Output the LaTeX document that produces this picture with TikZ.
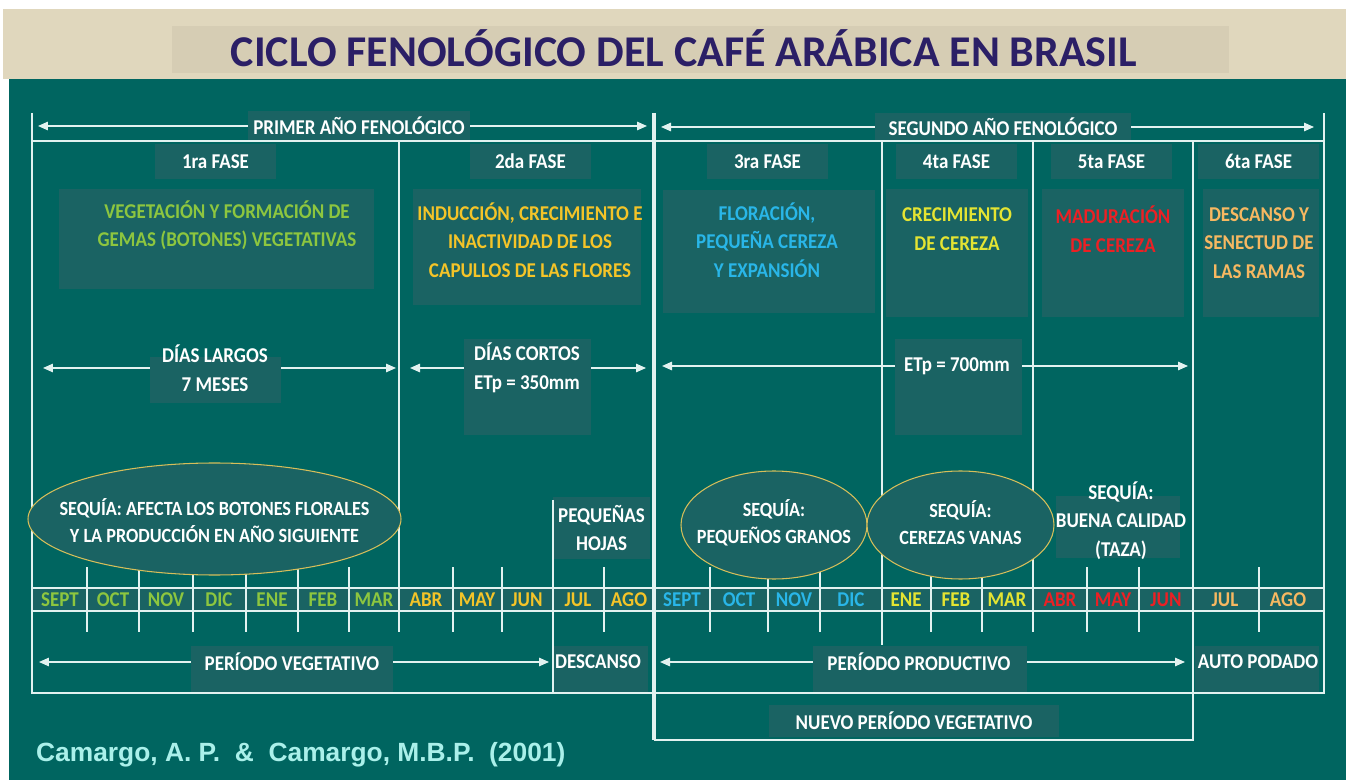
\documentclass[tikz,border=0pt]{standalone}
\usepackage{fontspec}
\setmainfont{Carlito}[FakeStretch=0.9]
\newfontfamily\titlefont{Carlito}
\newfontfamily\citefont{Liberation Sans}
\usetikzlibrary{arrows.meta,positioning,shapes.geometric}

\definecolor{tealbg}{RGB}{0,101,96}
\definecolor{boxc}{RGB}{26,99,99}
\definecolor{linec}{RGB}{226,242,240}
\definecolor{beige}{RGB}{224,215,189}
\definecolor{beigebox}{RGB}{214,205,180}
\definecolor{navy}{RGB}{43,31,102}
\definecolor{cgreen}{RGB}{141,198,63}
\definecolor{cgold}{RGB}{244,196,40}
\definecolor{ccyan}{RGB}{41,182,232}
\definecolor{clemon}{RGB}{228,228,50}
\definecolor{cred}{RGB}{236,32,36}
\definecolor{corange}{RGB}{247,184,97}
\definecolor{ellc}{RGB}{214,190,90}
\definecolor{citec}{RGB}{170,240,234}

\tikzstyle{arrow}    = [draw=linec, line width=0.8pt, ->, >={Triangle[length=0.2cm,width=0.17cm]}]
\tikzstyle{gridline} = [draw=linec, line width=0.8pt]
\tikzstyle{tickline} = [draw=linec, line width=0.6pt]
\tikzset{
	pane/.style 2 args={fill=boxc, inner sep=0pt, minimum width=#1*0.02cm, minimum height=#2*0.02cm},
	lbl/.style={text=white, font=\bfseries\fontsize{12}{16.2}\selectfont, align=center, inner sep=1pt},
	month/.style={font=\bfseries\fontsize{12}{14}\selectfont, inner sep=0pt},
	drought/.style 2 args={ellipse, draw=ellc, line width=0.6pt, fill=boxc, inner sep=0pt,
		minimum width=#1*0.02cm, minimum height=#2*0.02cm},
	droughttxt/.style={text=white, font=\bfseries\fontsize{11.5}{15.3}\selectfont, align=center, inner sep=1pt},
}

\begin{document}
\begin{tikzpicture}[x=0.02cm, y=-0.02cm]
	\useasboundingbox (0,0) rectangle (1346,780);
	% fondo y titulo
	\fill[white] (0,0) rectangle (1346,780);
	\fill[beige] (3,9) rectangle (1346,79);
	\fill[beigebox] (172,26) rectangle (1229,73);
	\fill[tealbg] (9,79) rectangle (1346,780);
	\node[text=navy, font=\titlefont\bfseries\fontsize{25}{28}\selectfont] (titulo) at (684,48) {CICLO FENOLÓGICO DEL CAFÉ ARÁBICA EN BRASIL};

	% anos y fases
	\node[pane={222}{30}, lbl] (yr1) at (359,126) {PRIMER AÑO FENOLÓGICO};
	\node[pane={256}{28}, lbl] (yr2) at (1003,127) {SEGUNDO AÑO FENOLÓGICO};
	\node[pane={121}{35}, lbl] (fase1) at (215.5,161.5) {1ra FASE};
	\node[pane={121}{35}, lbl] (fase2) at (530.5,161.5) {2da FASE};
	\node[pane={121}{35}, lbl] (fase3) at (767.5,161.5) {3ra FASE};
	\node[pane={121}{35}, lbl] (fase4) at (956.5,161.5) {4ta FASE};
	\node[pane={121}{35}, lbl] (fase5) at (1111.5,161.5) {5ta FASE};
	\node[pane={121}{35}, lbl] (fase6) at (1258.5,161.5) {6ta FASE};

	\node[pane={315}{100}] (desc1box) at (216.5,239) {};
	\node[lbl, text=cgreen] (desc1) at (227,225.5) {VEGETACIÓN Y FORMACIÓN DE\\GEMAS (BOTONES) VEGETATIVAS};
	\node[pane={228}{116}] (desc2box) at (527,247) {};
	\node[lbl, text=cgold] (desc2) at (530,240) {INDUCCIÓN, CRECIMIENTO E\\INACTIVIDAD DE LOS\\CAPULLOS DE LAS FLORES};
	\node[pane={212}{123}] (desc3box) at (769,251.5) {};
	\node[lbl, text=ccyan] (desc3) at (767,240) {FLORACIÓN,\\PEQUEÑA CEREZA\\Y EXPANSIÓN};
	\node[pane={142}{128}] (desc4box) at (957,253) {};
	\node[lbl, text=clemon] (desc4) at (957,229) {CRECIMIENTO\\DE CEREZA};
	\node[pane={142}{128}] (desc5box) at (1113,253) {};
	\node[lbl, text=cred] (desc5) at (1113,229) {MADURACIÓN\\DE CEREZA};
	\node[pane={116}{128}] (desc6box) at (1261,253) {};
	\node[lbl, text=corange] (desc6) at (1259,243) {DESCANSO Y\\SENECTUD DE\\LAS RAMAS};

	% dias y ETp
	\node[pane={131}{46}] (largosbox) at (215.5,380) {};
	\node[lbl] (largos) at (215,368) {DÍAS LARGOS\\7 MESES};
	\node[pane={127}{96}] (cortosbox) at (527.5,387) {};
	\node[lbl] (cortos) at (527,368) {DÍAS CORTOS\\ETp = 350mm};
	\node[pane={127}{96}] (etpbox) at (958.5,387) {};
	\node[lbl] (etp) at (957,366) {ETp = 700mm};

	\node[pane={97}{61}, lbl] (hojas) at (601.5,528) {PEQUEÑAS\\HOJAS};
	\node[pane={124}{62}] (tazabox) at (1118,527) {};
	\node[lbl] (taza) at (1121,520.5) {SEQUÍA:\\BUENA CALIDAD\\(TAZA)};

	% periodos
	\node[pane={202}{46}] (vegbox) at (292,669) {};
	\node[lbl] (veg) at (292,662) {PERÍODO VEGETATIVO};
	\node[pane={95}{46}] (descbox) at (600.5,669) {};
	\node[lbl] (desc) at (598,662) {DESCANSO};
	\node[pane={214}{46}] (prodbox) at (920,669) {};
	\node[lbl] (prod) at (919,662) {PERÍODO PRODUCTIVO};
	\node[pane={124}{46}] (autobox) at (1257,669) {};
	\node[lbl] (auto) at (1258,662) {AUTO PODADO};
	\node[pane={290}{32}, lbl] (nuevo) at (914,721) {NUEVO PERÍODO VEGETATIVO};

	% fila de meses
	\fill[boxc] (32,588) rectangle (1324,611);

	% lineas
	\draw[gridline] (32,113) -- (32,693) -- (1324,693) -- (1324,113);
	\draw[gridline] (32,141) -- (1324,141);
	\draw[gridline] (32,588) -- (1324,588);
	\draw[gridline] (32,611) -- (1324,611);
	\draw[gridline] (399,141) -- (399,632);
	\draw[gridline] (882,141) -- (882,645);
	\draw[gridline] (1033,141) -- (1033,632);
	\draw[gridline] (1193,141) -- (1193,740) -- (654,740);
	\draw[gridline] (553,500) -- (553,693);
	\draw[gridline, line width=1.8pt] (654,113) -- (654,740);
	\foreach \x in {87,193,246,298,349,453,502,604,710,768,820,931,1087,1139,1259}
		\draw[tickline] (\x,567) -- (\x,632);
	\draw[gridline, line width=1.3pt] (139,567) -- (139,632);
	\draw[gridline, line width=1.3pt] (982,575) -- (982,632);

	% meses
	\foreach \m/\x/\c [count=\i] in {SEPT/60/cgreen, OCT/113/cgreen, NOV/166/cgreen, DIC/219/cgreen,
			ENE/272/cgreen, FEB/323/cgreen, MAR/374/cgreen, ABR/426/cgold, MAY/477/cgold, JUN/527/cgold,
			JUL/578/cgold, AGO/629/cgold, SEPT/682/ccyan, OCT/739/ccyan, NOV/794/ccyan, DIC/851/ccyan,
			ENE/906/clemon, FEB/956/clemon, MAR/1007/clemon, ABR/1060/cred, MAY/1113/cred, JUN/1166/cred,
			JUL/1225/corange, AGO/1288/corange}
		\node[month, text=\c] (mes\i) at (\x,600) {\m};

	% sequias
	\node[drought={373}{112}] (seca1) at (214.5,519) {};
	\node[droughttxt] (seca1txt) at (214.5,521) {SEQUÍA: AFECTA LOS BOTONES FLORALES\\Y LA PRODUCCIÓN EN AÑO SIGUIENTE};
	\node[drought={186}{108}] (seca2) at (774,525) {};
	\node[droughttxt] (seca2txt) at (774,523) {SEQUÍA:\\PEQUEÑOS GRANOS};
	\node[drought={187}{108}] (seca3) at (960.5,525) {};
	\node[droughttxt] (seca3txt) at (960.5,523) {SEQUÍA:\\CEREZAS VANAS};

	% flechas
	\coordinate (yr1L) at (38,126);
	\coordinate (yr1R) at (647,126);
	\coordinate (yr2L) at (661,127);
	\coordinate (yr2R) at (1314,127);
	\draw[arrow] (yr1) -- (yr1L);
	\draw[arrow] (yr1) -- (yr1R);
	\draw[arrow] (yr2) -- (yr2L);
	\draw[arrow] (yr2) -- (yr2R);

	\coordinate (largosL) at (43,368);
	\coordinate (largosR) at (396,368);
	\coordinate (cortosL) at (410,368);
	\coordinate (cortosR) at (646,368);
	\coordinate (etpL) at (662,366);
	\coordinate (etpR) at (1188,366);
	\draw[arrow] (largos -| largosbox.west) -- (largosL);
	\draw[arrow] (largos -| largosbox.east) -- (largosR);
	\draw[arrow] (cortos -| cortosbox.west) -- (cortosL);
	\draw[arrow] (cortos -| cortosbox.east) -- (cortosR);
	\draw[arrow] (etp -| etpbox.west) -- (etpL);
	\draw[arrow] (etp -| etpbox.east) -- (etpR);

	\coordinate (vegL) at (39,662);
	\coordinate (vegR) at (549,662);
	\coordinate (prodL) at (660,662);
	\coordinate (prodR) at (1185,662);
	\draw[arrow] (veg -| vegbox.west) -- (vegL);
	\draw[arrow] (veg -| vegbox.east) -- (vegR);
	\draw[arrow] (prod -| prodbox.west) -- (prodL);
	\draw[arrow] (prod -| prodbox.east) -- (prodR);

	% cita
	\node[anchor=west, text=citec, font=\citefont\bfseries\fontsize{15}{18}\selectfont] (cita) at (30,755) {Camargo, A. P.~~\&~~Camargo, M.B.P.~~(2001)};
\end{tikzpicture}
\end{document}
